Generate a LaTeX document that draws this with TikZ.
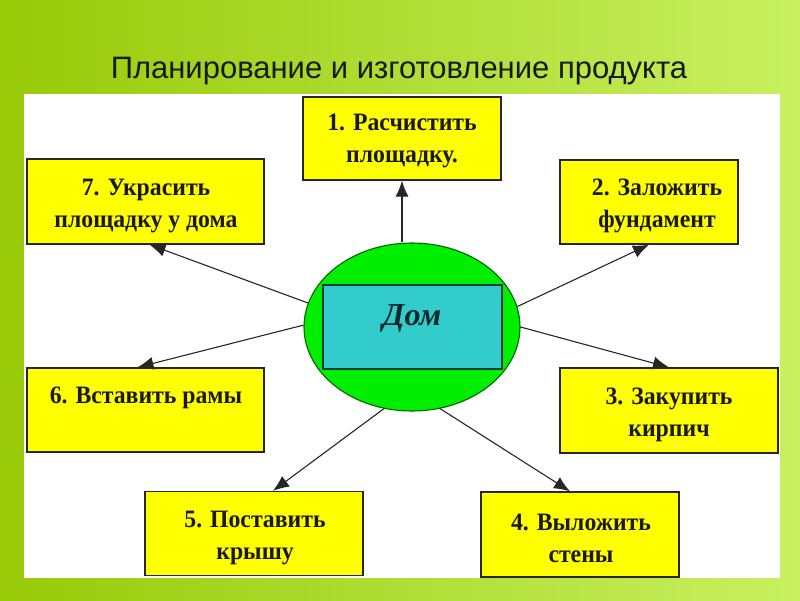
\documentclass[tikz,border=0pt]{standalone}
\usepackage{fontspec}
\setmainfont{Liberation Serif}
\newfontfamily\titlefont{Liberation Sans}
\newfontfamily\boxfont[FakeStretch=0.95]{Liberation Serif}
\usetikzlibrary{arrows.meta,shapes.geometric}
\definecolor{bgleft}{RGB}{152,202,8}
\definecolor{bgright}{RGB}{200,240,96}
\definecolor{boxyellow}{RGB}{255,255,0}
\definecolor{domgreen}{RGB}{0,238,0}
\definecolor{domcyan}{RGB}{51,204,204}
\definecolor{domtext}{RGB}{12,40,44}
\tikzset{
  ybox/.style={draw=black!85, line width=1.3pt, fill=boxyellow, inner sep=0pt},
  btext/.style={font=\boxfont\bfseries\fontsize{25}{32}\selectfont, align=center, inner sep=0pt, text=black!90},
  arr/.style={draw=black!85, line width=1.1pt, -{Latex[length=16pt,width=13pt]}}
}
\begin{document}
\begin{tikzpicture}[x=1pt,y=-1pt]
\useasboundingbox (0,0) rectangle (800,600);
\shade[left color=bgleft, right color=bgright] (0,0) rectangle (800,600);
\fill[white] (24,94) rectangle (780,578);
\node[font=\titlefont\fontsize{31}{36}\selectfont, text=black!90] (title) at (399,71) {Планирование и изготовление продукта};

% central house
\node[ellipse, draw=black!60!green, line width=1.1pt, fill=domgreen, minimum width=216pt, minimum height=168pt, inner sep=0pt] (dom) at (412,327) {};
\node[draw=black!70!domcyan, line width=1.3pt, fill=domcyan, minimum width=179pt, minimum height=84pt, inner sep=0pt] (domrect) at (412.5,327) {};
\node[font=\bfseries\itshape\fontsize{32}{36}\selectfont, text=domtext, inner sep=0pt] (domt) at (412,318) {Дом};

% boxes
\node[ybox, minimum width=198pt, minimum height=83pt] (b1) at (402,138.5) {};
\node[ybox, minimum width=178pt, minimum height=84pt] (b2) at (649,202) {};
\node[ybox, minimum width=218pt, minimum height=85pt] (b3) at (669,410.5) {};
\node[ybox, minimum width=198pt, minimum height=85pt] (b4) at (580,534.5) {};
\node[ybox, minimum width=218pt, minimum height=84pt] (b5) at (254,533.5) {};
\node[ybox, minimum width=237pt, minimum height=84pt] (b6) at (145.5,410) {};
\node[ybox, minimum width=237pt, minimum height=85pt] (b7) at (145.5,201.5) {};

\node[btext] (t1) at (402,141) {1. Расчистить\\площадку.};
\node[btext] (t2) at (657,206) {2. Заложить\\фундамент};
\node[btext] (t3) at (669,415) {3. Закупить\\кирпич};
\node[btext] (t4) at (581,538) {4. Выложить\\стены};
\node[btext] (t5) at (255,538) {5. Поставить\\крышу};
\node[btext] (t6) at (146,398) {6. Вставить рамы};
\node[btext] (t7) at (146,206) {7. Украсить\\площадку у дома};

% connectors
\draw[arr] (b1.south |- dom.north) -- (b1.south);
\draw[arr] (dom.11) -- (b2.south);
\draw[arr] (dom.0) -- (b3.north);
\draw[arr] (dom.-71) -- ([xshift=-10pt]b4.north);
\draw[arr] (dom.-109) -- ([xshift=19pt]b5.north);
\draw[arr] (dom.179) -- ([xshift=-8pt]b6.north);
\draw[arr] (dom.167) -- ([xshift=4pt]b7.south);
\end{tikzpicture}
\end{document}
